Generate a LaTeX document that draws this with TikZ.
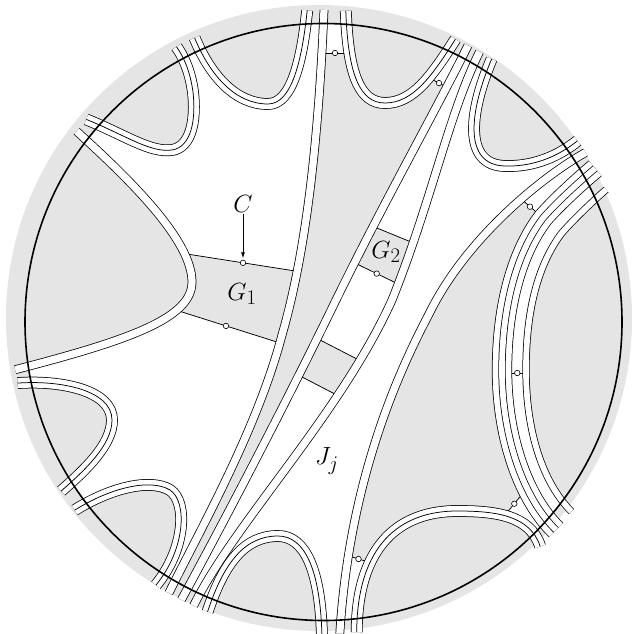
\documentclass[tikz,border=0pt]{standalone}
\usepackage{tikz}
\usetikzlibrary{calc,arrows.meta}
\definecolor{cShade}{RGB}{229,229,229}

\newcommand\crvL{(76.6,131.2) .. controls (130,180) and (192,240) .. (192,282) .. controls (192,318) and (130,340) .. (15.2,369.7)}
\newcommand\crvA{(86.3,119.4) .. controls (125,135) and (150,153) .. (172,150) .. controls (192,147) and (196,118) .. (193,92) .. controls (190,70) and (183,56) .. (176.5,46.8)}
\newcommand\crvB{(194.6,37.9) .. controls (210,75) and (235,104) .. (268,104) .. controls (292,104) and (302,60) .. (307.2,10.4)}
\newcommand\crvC{(324,10) .. controls (318,150) and (305,255) .. (282,335) .. controls (257,430) and (200,530) .. (168.9,593)}
\newcommand\crvT{(345.8,10.8) .. controls (348,75) and (360,103) .. (385,103) .. controls (413,103) and (432,76) .. (455.4,39.2)}
\newcommand\crvD{(468,45.5) .. controls (436,110) and (385,200) .. (336,300) .. controls (290,395) and (225,520) .. (181.4,599.7)}
\newcommand\crvE{(479.5,51.8) .. controls (448,116) and (432,200) .. (392,300) .. controls (340,415) and (235,522) .. (193.6,605.7)}
\newcommand\crvU{(491.6,59.1) .. controls (470,110) and (462,165) .. (505,166) .. controls (535,167) and (560,155) .. (577.5,140.8)}
\newcommand\crvF{(585.5,152.5) .. controls (540,178) and (465,240) .. (429,314) .. controls (405,360) and (350,470) .. (339.8,633.6)}
\newcommand\crvRo{(595.1,168.4) .. controls (580,181) and (556,203) .. (543,218) .. controls (515,255) and (502,310) .. (502,370) .. controls (502,440) and (525,500) .. (556.1,530)}
\newcommand\crvRi{(606.1,189.6) .. controls (593,201) and (573,220) .. (561,234) .. controls (536,268) and (526,315) .. (526,370) .. controls (526,432) and (543,483) .. (571.4,511.5)}
\newcommand\crvV{(356.7,632.2) .. controls (357,545) and (400,511) .. (457,511) .. controls (495,511) and (530,515) .. (540.2,546.4)}
\newcommand\crvW{(207.6,611.7) .. controls (224,562) and (245,536) .. (278,536) .. controls (305,536) and (320,570) .. (321.9,634)}
\newcommand\crvX{(74.6,510.2) .. controls (110,488) and (150,478) .. (170,490) .. controls (188,502) and (185,550) .. (155.9,585.1)}
\newcommand\crvY{(17.6,383.1) .. controls (60,380) and (112,390) .. (112,420) .. controls (112,445) and (85,470) .. (61.2,491)}

\begin{document}
\begin{tikzpicture}[x=1pt,y=-1pt,
   gry/.style={fill=cShade},
   ln/.style={line width=.75pt},
   bandii/.style={line width=8.75pt,postaction={draw=white,line width=7.25pt}},
   bandiii/.style={line width=11.75pt,postaction={draw=white,line width=10.25pt},postaction={draw=black,line width=.75pt}},
   bandiv/.style={line width=20.25pt,postaction={draw=white,line width=18.75pt},postaction={draw=black,line width=7.25pt},postaction={draw=white,line width=5.75pt}},
   bandri/.style={line width=7.25pt,postaction={draw=white,line width=5.75pt}},
   dot/.style={circle,draw,fill=white,line width=.6pt,inner sep=0pt,minimum size=5.5pt},
   lab/.style={font=\Huge,inner sep=1pt}]
  \useasboundingbox (0,0) rectangle (634,634);
  \coordinate (O) at (323.5,322);
  \fill[gry] (319,318) circle (313);
  \fill[white] (O) circle (298.5);

  \coordinate (ga) at (185,253.7);  \coordinate (gb) at (299,271.6);
  \coordinate (gc) at (281,343.3);  \coordinate (gd) at (176,310.1);
  \coordinate (ha) at (373,226.4);  \coordinate (hb) at (415,243.6);
  \coordinate (hc) at (398,283.9);  \coordinate (hd) at (355,263.1);
  \coordinate (ka) at (316,337.9);  \coordinate (kb) at (359,360.1);
  \coordinate (kc) at (337,395.1);  \coordinate (kd) at (298,374.9);
  \coordinate (cta) at (322,53);      \coordinate (ctb) at (349.3,53);
  \coordinate (tda) at (428.5,77.6);  \coordinate (tdb) at (446.7,87.1);
  \coordinate (fra) at (521.2,199);   \coordinate (frb) at (543,218);
  \coordinate (fva) at (348.5,555.8); \coordinate (fvb) at (370,562.6);
  \coordinate (vra) at (504.5,515.6); \coordinate (vrb) at (527,488.3);
  \coordinate (rga) at (511.75,373);  \coordinate (rgb) at (522.75,373);

  \begin{scope}
    \clip (O) circle (298.5);
    \fill[gry] \crvC -- (160,700) -- (700,700) -- (700,-40) -- (320,-40) -- cycle;
    \fill[white] \crvD -- (170,700) -- (700,700) -- (700,-40) -- (470,-40) -- cycle;
    \fill[gry] \crvF -- (340,700) -- (700,700) -- (700,100) -- (600,120) -- cycle;
    \fill[white] \crvRo -- (640,560) -- (700,160) -- (620,140) -- cycle;
    \fill[white] (318,53) -- (353,53) -- (353,-10) -- (318,-10) -- cycle;
    \fill[white] (424,75.3) -- (452,89.9) -- (478,38) -- (452,20) -- cycle;
    \fill[white] (514,192.7) -- (frb) -- (586,174) -- (615,150) -- (590,135) -- cycle;
    \fill[white] (340,553.1) -- (376,564.5) -- (382,650) -- (330,650) -- cycle;
    \fill[white] (498,523.5) -- (532,482) -- (585,515) -- (548,570) -- cycle;
    \fill[gry] \crvRi -- (650,530) -- (700,200) -- (640,170) -- cycle;
    \fill[gry] \crvA -- (150,0) -- (40,80) -- cycle;
    \fill[gry] \crvB -- (305,-30) -- (180,-10) -- cycle;
    \fill[gry] \crvT -- (470,-20) -- (340,-20) -- cycle;
    \fill[gry] \crvU -- (620,100) -- (510,20) -- cycle;
    \fill[gry] \crvV -- (580,600) -- (400,680) -- cycle;
    \fill[gry] \crvW -- (320,680) -- (190,660) -- cycle;
    \fill[gry] \crvX -- (140,650) -- (30,560) -- cycle;
    \fill[gry] \crvY -- (20,520) -- (-20,400) -- cycle;
    \fill[gry] \crvL -- (-40,380) -- (-40,100) -- (60,100) -- cycle;
    \fill[gry] (ga) -- (gb) -- (gc) -- (gd) -- cycle;
    \fill[gry] (ha) -- (hb) -- (hc) -- (hd) -- cycle;
    \fill[gry] (ka) -- (kb) -- (kc) -- (kd) -- cycle;
  \end{scope}

  \draw[ln] (ga) -- (gb);  \draw[ln] (gd) -- (gc);
  \draw[ln] (ha) -- (hb);  \draw[ln] (hd) -- (hc);
  \draw[ln] (ka) -- (kb);  \draw[ln] (kd) -- (kc);
  \draw[ln] (cta) -- (ctb); \draw[ln] (tda) -- (tdb);
  \draw[ln] (fra) -- (frb); \draw[ln] (fva) -- (fvb);
  \draw[ln] (vra) -- (vrb);

  \draw[bandii] \crvL;  \draw[bandii] \crvC;  \draw[bandii] \crvD;
  \draw[bandii] \crvE;  \draw[bandii] \crvF;
  \draw[bandiii] \crvA; \draw[bandiii] \crvB; \draw[bandiii] \crvT;
  \draw[bandiii] \crvU; \draw[bandiii] \crvV; \draw[bandiii] \crvW;
  \draw[bandiii] \crvX; \draw[bandiii] \crvY;
  \draw[bandiv] \crvRo; \draw[bandri] \crvRi;

  \draw[line width=1.6pt] (O) circle (298.5);
  \draw[ln] (rga) -- (rgb);

  \node[dot] (mC)  at (243,262.8) {};
  \node[dot] (mG1) at (226,325.9) {};
  \node[dot] (mG2) at (376.7,273.6) {};
  \node[dot] (mct) at (335,53) {};
  \node[dot] (mtd) at (439,83.1) {};
  \node[dot] (mfr) at (530,206.7) {};
  \node[dot] (mfv) at (358.5,559) {};
  \node[dot] (mvr) at (514.3,503.7) {};
  \node[dot] (mrg) at (517.25,373) {};

  \node[lab] (lC)  at (243,204) {$C$};
  \node[lab] (lG1) at (242,294) {$G_1$};
  \node[lab] (lG2) at (386,252) {$G_2$};
  \node[lab] (lJ)  at (327,461) {$J_j$};
  \draw[ln,-{Latex[length=6pt,width=4pt]},shorten >=1.5pt] (lC) -- (mC);
\end{tikzpicture}
\end{document}
